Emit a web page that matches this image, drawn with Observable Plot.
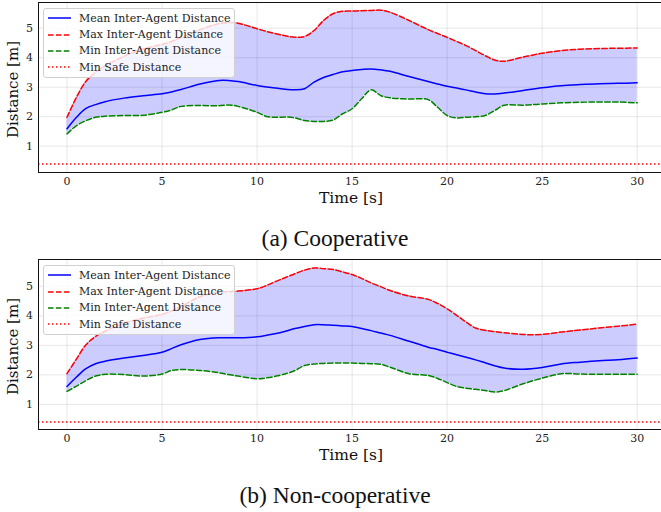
<!DOCTYPE html>
<html><head><meta charset="utf-8">
<script src="https://cdn.jsdelivr.net/npm/d3@7"></script>
<script src="https://cdn.jsdelivr.net/npm/@observablehq/plot@0.6"></script>
<style>
body{margin:0;background:#fff;}
#root{position:relative;width:661px;height:512px;overflow:hidden;background:#fff;}
.panel{position:absolute;left:0;}
.caption{position:absolute;left:0;width:670px;text-align:center;font-family:"Liberation Serif",serif;font-size:23.5px;color:#111;line-height:1;}
.xlab{position:absolute;left:251px;width:200px;text-align:center;font-family:"DejaVu Serif",serif;font-size:15.5px;color:#111;line-height:1;}
.ylab{position:absolute;width:120px;text-align:center;font-family:"DejaVu Serif",serif;font-size:15px;color:#111;line-height:1;transform:rotate(-90deg);}
.legend{position:absolute;left:43px;width:190px;background:rgba(255,255,255,0.8);border:1px solid #d0d0d0;border-radius:3px;font-family:"DejaVu Serif",serif;font-size:11px;color:#222;padding:1px 0 1px 0;}
.row{display:flex;align-items:center;height:16.4px;padding-left:4px;}
.row svg{margin-right:8px;}
</style>
</head><body>
<div id="root"></div>
<script>
// ---- data ----
const timesA = [0,0.5,1,1.5,2,3,4,5,5.5,6,7,8,8.5,9,10,10.5,11,11.5,12,12.5,13,13.5,14,14.5,15,15.5,16,16.5,17,18,19,19.5,20,20.5,21,21.5,22,22.5,23,24,25,26,27,28,29,30];
const meanA = [1.59,1.98,2.28,2.41,2.51,2.63,2.71,2.78,2.84,2.92,3.11,3.23,3.23,3.19,3.06,3.01,2.97,2.93,2.91,2.95,3.17,3.33,3.43,3.52,3.57,3.60,3.62,3.59,3.54,3.36,3.19,3.11,3.03,2.97,2.91,2.84,2.78,2.77,2.80,2.89,2.98,3.05,3.09,3.12,3.13,3.15];
const maxA  = [1.98,2.66,3.20,3.50,3.72,4.05,4.30,4.45,4.55,4.68,4.95,5.15,5.19,5.17,4.98,4.89,4.81,4.74,4.69,4.72,4.92,5.26,5.49,5.57,5.58,5.59,5.60,5.61,5.54,5.26,4.95,4.82,4.69,4.55,4.41,4.24,4.07,3.92,3.88,4.02,4.15,4.24,4.29,4.31,4.32,4.33];
const minA  = [1.42,1.70,1.87,1.98,2.02,2.04,2.05,2.15,2.23,2.35,2.38,2.37,2.40,2.35,2.15,2.01,1.98,1.99,1.96,1.87,1.84,1.84,1.89,2.10,2.27,2.61,2.91,2.72,2.64,2.60,2.58,2.32,2.04,1.96,1.98,2.00,2.04,2.21,2.39,2.39,2.43,2.47,2.49,2.50,2.50,2.47];

const timesB = [0,0.5,1,1.5,2,3,4,5,5.5,6,7,8,8.5,9,10,10.5,11,11.5,12,12.5,13,13.5,14,14.5,15,15.5,16,16.5,17,18,19,19.5,20,20.5,21,21.5,22,22.5,23,24,25,26,27,28,29,30];
const meanB = [1.61,1.93,2.21,2.38,2.46,2.57,2.66,2.77,2.89,3.02,3.20,3.26,3.26,3.26,3.29,3.34,3.40,3.48,3.57,3.64,3.70,3.70,3.68,3.66,3.64,3.57,3.50,3.42,3.34,3.14,2.94,2.86,2.77,2.68,2.60,2.51,2.41,2.31,2.23,2.19,2.25,2.37,2.43,2.48,2.51,2.57];
const maxB  = [2.04,2.54,3.02,3.30,3.48,3.75,3.92,4.05,4.17,4.32,4.65,4.80,4.82,4.84,4.92,5.03,5.17,5.30,5.43,5.55,5.62,5.60,5.57,5.49,5.40,5.27,5.12,4.99,4.86,4.67,4.56,4.42,4.24,4.02,3.79,3.59,3.51,3.47,3.43,3.37,3.37,3.45,3.52,3.59,3.65,3.72];
const minB  = [1.44,1.62,1.81,1.96,2.02,2.01,1.96,2.03,2.15,2.18,2.15,2.07,2.01,1.96,1.87,1.90,1.96,2.04,2.15,2.32,2.37,2.39,2.40,2.40,2.40,2.39,2.38,2.36,2.26,2.04,1.98,1.88,1.74,1.61,1.55,1.51,1.47,1.42,1.47,1.70,1.89,2.04,2.03,2.02,2.02,2.02];

const minSafe = 0.4;
const xTicks = [0,5,10,15,20,25,30];
const yTicks = [1,2,3,4,5];
const seriesNames = ["Mean Inter-Agent Distance","Max Inter-Agent Distance","Min Inter-Agent Distance","Min Safe Distance"];
const captions = ["(a) Cooperative","(b) Non-cooperative"];

// ---- drawing ----
const root = document.getElementById("root");
const dashed = "5.5,2.4";
const dotted = "1.5,2.5";

function makePanel(T, mean, max, min, yDomain) {
  const data = T.map((t,i)=>({t, mean:mean[i], max:max[i], min:min[i]}));
  return Plot.plot({
    width:661, height:212, marginTop:2, marginBottom:40, marginLeft:38, marginRight:0,
    style:{fontFamily:"DejaVu Serif, serif", fontSize:"11px", color:"#222", background:"transparent"},
    x:{domain:[-1.5,31.28], ticks:xTicks, tickFormat:d3.format("d"), tickSize:0, tickPadding:5, label:null, grid:true},
    y:{domain:yDomain, ticks:yTicks, tickFormat:d3.format("d"), tickSize:0, tickPadding:5.5, label:null, grid:true},
    marks:[
      Plot.areaY(data,{x:"t", y1:"min", y2:"max", fill:"#0000ff", fillOpacity:0.2, curve:"catmull-rom"}),
      Plot.ruleY([minSafe],{stroke:"#ff0000", strokeWidth:1.5, strokeDasharray:dotted}),
      Plot.lineY(data,{x:"t", y:"max", stroke:"#ff0000", strokeWidth:1.5, strokeDasharray:dashed, curve:"catmull-rom"}),
      Plot.lineY(data,{x:"t", y:"min", stroke:"#008000", strokeWidth:1.5, strokeDasharray:dashed, curve:"catmull-rom"}),
      Plot.lineY(data,{x:"t", y:"mean", stroke:"#0000ff", strokeWidth:1.5, curve:"catmull-rom"}),
      Plot.frame({stroke:"#111", strokeWidth:1})
    ]
  });
}

function legendEl(top) {
  const div = document.createElement("div");
  div.className = "legend";
  div.style.top = top + "px";
  const styles = [
    {stroke:"#0000ff", dash:null},
    {stroke:"#ff0000", dash:dashed},
    {stroke:"#008000", dash:dashed},
    {stroke:"#ff0000", dash:dotted}
  ];
  seriesNames.forEach((name,i)=>{
    const row = document.createElement("div");
    row.className = "row";
    const s = styles[i];
    row.innerHTML = `<svg width="23" height="6"><line x1="0" x2="23" y1="3" y2="3" stroke="${s.stroke}" stroke-width="1.5" ${s.dash?`stroke-dasharray="${s.dash}"`:""}/></svg><span>${name}</span>`;
    div.appendChild(row);
  });
  return div;
}

const panels = [
  {T:timesA, mean:meanA, max:maxA, min:minA, dom:[0.11,5.87], top:0, cap:247-20},
  {T:timesB, mean:meanB, max:maxB, min:minB, dom:[0.15,5.91], top:257, cap:504-20}
];
panels.forEach((p,k)=>{
  const wrap = document.createElement("div");
  wrap.className = "panel";
  wrap.style.top = p.top + "px";
  wrap.appendChild(makePanel(p.T, p.mean, p.max, p.min, p.dom));
  root.appendChild(wrap);
  root.appendChild(legendEl(p.top + 8));
  const xl = document.createElement("div");
  xl.className = "xlab"; xl.textContent = "Time [s]";
  xl.style.top = (p.top + 191) + "px";
  root.appendChild(xl);
  const yl = document.createElement("div");
  yl.className = "ylab"; yl.textContent = "Distance [m]";
  yl.style.left = (13 - 60) + "px";
  yl.style.top = (p.top + 89 - 7.5) + "px";
  root.appendChild(yl);
  const c = document.createElement("div");
  c.className = "caption"; c.textContent = captions[k];
  c.style.top = p.cap + "px";
  root.appendChild(c);
});
</script>
</body></html>
